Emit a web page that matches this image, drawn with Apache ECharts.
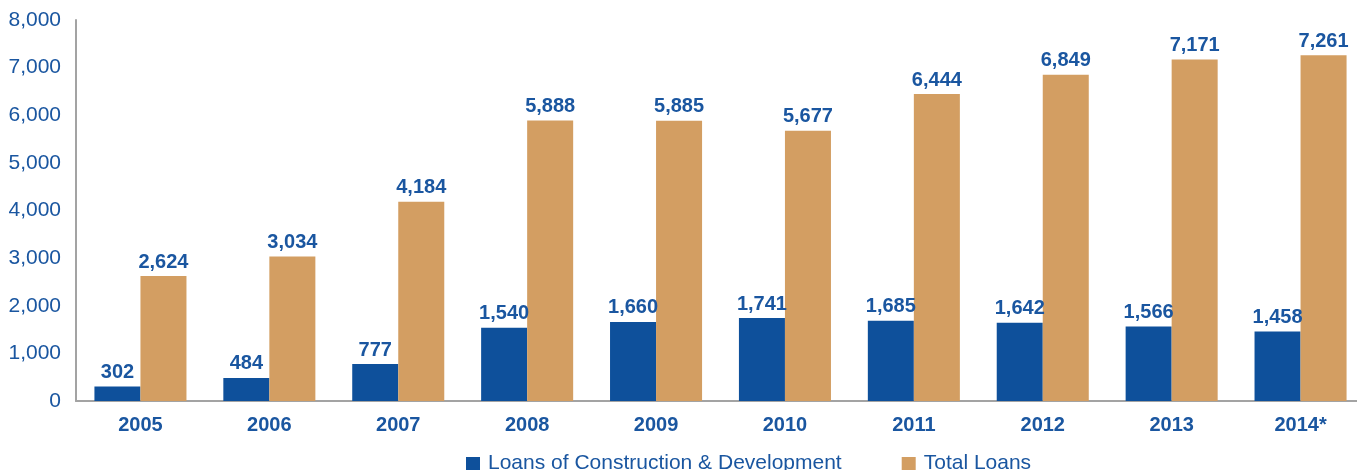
<!DOCTYPE html>
<html><head><meta charset="utf-8">
<script src="https://cdn.jsdelivr.net/npm/echarts@6/dist/echarts.min.js"></script>
<style>html,body{margin:0;padding:0;background:#fff}#c{width:1357px;height:470px}</style>
</head><body><div id="c"></div>
<script>
var categories = ['2005','2006','2007','2008','2009','2010','2011','2012','2013','2014*'];
var constructionLoans = [302,484,777,1540,1660,1741,1685,1642,1566,1458];
var totalLoans = [2624,3034,4184,5888,5885,5677,6444,6849,7171,7261];
var yTicks = [0,1000,2000,3000,4000,5000,6000,7000,8000];

var blue = '#0e509b', tan = '#d39e62', txt = '#1a56a0';
var font = '"Liberation Sans", Arial, Helvetica, sans-serif';
var chart = echarts.init(document.getElementById('c'));
function fmt(v){ return v.toLocaleString('en-US'); }
chart.setOption({
  animation: false,
  textStyle: {fontFamily: font},
  grid: {left: 76, top: 20, width: 1289, height: 381, containLabel: false, outerBoundsMode: 'none'},
  legend: {
    left: 461, top: 448, itemWidth: 14, itemHeight: 13, itemGap: 60,
    textStyle: {color: txt, fontSize: 21, fontFamily: font, padding: [0, 0, 0, 3]},
    icon: 'rect',
    data: ['Loans of Construction & Development','Total Loans']
  },
  xAxis: {
    type: 'category', data: categories,
    axisLine: {lineStyle: {color: '#a3a3a3', width: 2}},
    axisTick: {show: false},
    axisLabel: {color: txt, fontSize: 20, fontWeight: 'bold', margin: 14, fontFamily: font}
  },
  yAxis: {
    type: 'value', min: yTicks[0], max: yTicks[yTicks.length-1], interval: 1000,
    axisLine: {show: true, lineStyle: {color: '#a3a3a3', width: 2}},
    axisTick: {show: false},
    splitLine: {show: false},
    axisLabel: {color: txt, fontSize: 21, margin: 15, fontFamily: font, formatter: function(v){return fmt(v);}}
  },
  series: [
    {name: 'Loans of Construction & Development', type: 'bar', data: constructionLoans,
     itemStyle: {color: blue}, barGap: '0%', barCategoryGap: '28.6%',
     label: {show: true, position: 'top', distance: 4, color: txt, fontSize: 20, fontWeight: 'bold', fontFamily: font, formatter: function(p){return fmt(p.value);}}},
    {name: 'Total Loans', type: 'bar', data: totalLoans,
     itemStyle: {color: tan}, barGap: '0%', barCategoryGap: '28.6%',
     label: {show: true, position: 'top', distance: 4, color: txt, fontSize: 20, fontWeight: 'bold', fontFamily: font, formatter: function(p){return fmt(p.value);}}}
  ]
});
</script></body></html>
